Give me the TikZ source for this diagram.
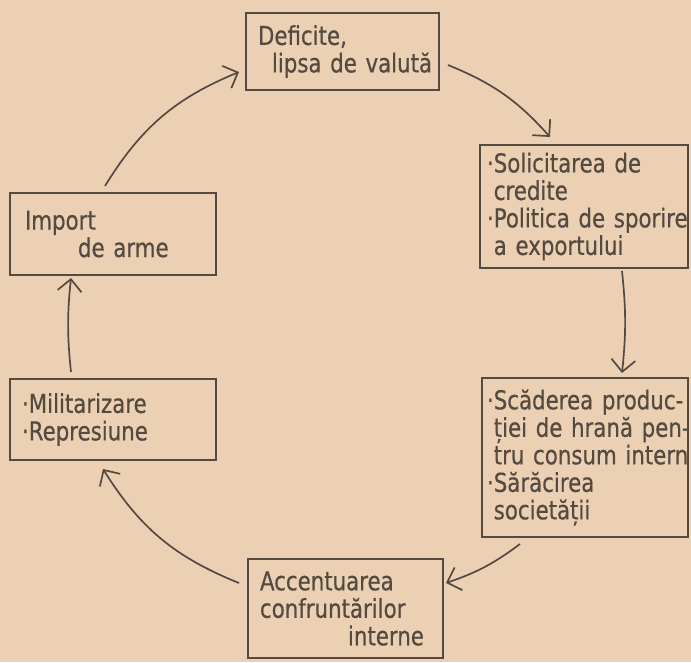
\documentclass[tikz,border=0pt]{standalone}
\usepackage{fontspec}
\usetikzlibrary{arrows.meta}
\newfontfamily\boxfont[FakeStretch=0.82,FakeBold=0.5]{DejaVu Sans}
\definecolor{ink}{RGB}{84, 74, 64}
\definecolor{paper}{RGB}{235, 208, 180}
\tikzset{textbox/.style={draw=ink,line width=2pt,text=ink,inner xsep=2pt,inner ysep=2pt,align=left,font=\boxfont\fontsize{26}{27.5}\selectfont,execute at begin node={\hyphenpenalty=10000\exhyphenpenalty=10000\hbadness=10000\hfuzz=20pt\relax}}}
\tikzset{cyclearrow/.style={-{Straight Barb[length=12pt,width=24pt]},ink,line width=1.7pt}}

\begin{document}
\begin{tikzpicture}[x=1pt,y=1pt]
	\fill[paper] (0,0) rectangle (691,662);
	\useasboundingbox (0,0) rectangle (691,662);
	\node[textbox,minimum width=193pt,minimum height=77pt,text width=189pt] (defic) at (342.5,610.5) {\hspace*{10pt}Deficite,\\\hspace*{24pt}lipsa~de~valută};
	\node[textbox,minimum width=208pt,minimum height=123pt,text width=204pt] (solic) at (584,455.5) {\hspace*{5pt}·Solicitarea~de\\\hspace*{5pt}\hphantom{·}credite\\\hspace*{5pt}·Politica~de~sporire\\\hspace*{5pt}\hphantom{·}a~exportului};
	\node[textbox,minimum width=206pt,minimum height=159pt,text width=202pt] (scad) at (585,204.5) {\hspace*{3pt}·Scăderea~produc-\\\hspace*{3pt}\hphantom{·}ției~de~hrană~pen-\\\hspace*{3pt}\hphantom{·}tru~consum~intern\\\hspace*{3pt}·Sărăcirea\\\hspace*{3pt}\hphantom{·}societății};
	\node[textbox,minimum width=195pt,minimum height=99pt,text width=191pt] (accent) at (345.5,53.5) {\hspace*{10pt}Accentuarea\\\hspace*{10pt}confruntărilor\\\hspace*{98pt}interne};
	\node[textbox,minimum width=206pt,minimum height=81pt,text width=202pt] (milit) at (113,242.5) {\hspace*{10pt}·Militarizare\\\hspace*{10pt}·Represiune};
	\node[textbox,minimum width=206pt,minimum height=82pt,text width=202pt] (imp) at (113,428) {\hspace*{13pt}Import\\\hspace*{66pt}de~arme};
	\draw[cyclearrow] ([xshift=8pt,yshift=-13.5pt]defic.east) to[bend left=13] ([xshift=-34pt,yshift=7pt]solic.north);
	\draw[cyclearrow] ([xshift=38pt,yshift=-2pt]solic.south) to[bend left=6] ([xshift=37pt,yshift=4pt]scad.north);
	\draw[cyclearrow] ([xshift=-65pt,yshift=-6pt]scad.south) to[bend left=9] ([xshift=2pt,yshift=25.5pt]accent.east);
	\draw[cyclearrow] ([xshift=-8pt,yshift=25.5pt]accent.west) to[bend left=18] ([xshift=-10pt,yshift=-8pt]milit.south);
	\draw[cyclearrow] ([xshift=-42pt,yshift=6pt]milit.north) to[bend left=6] ([xshift=-42pt,yshift=-2pt]imp.south);
	\draw[cyclearrow] ([xshift=-8pt,yshift=6pt]imp.north) to[bend left=18] ([xshift=-6pt,yshift=-20.5pt]defic.west);
\end{tikzpicture}
\end{document}
